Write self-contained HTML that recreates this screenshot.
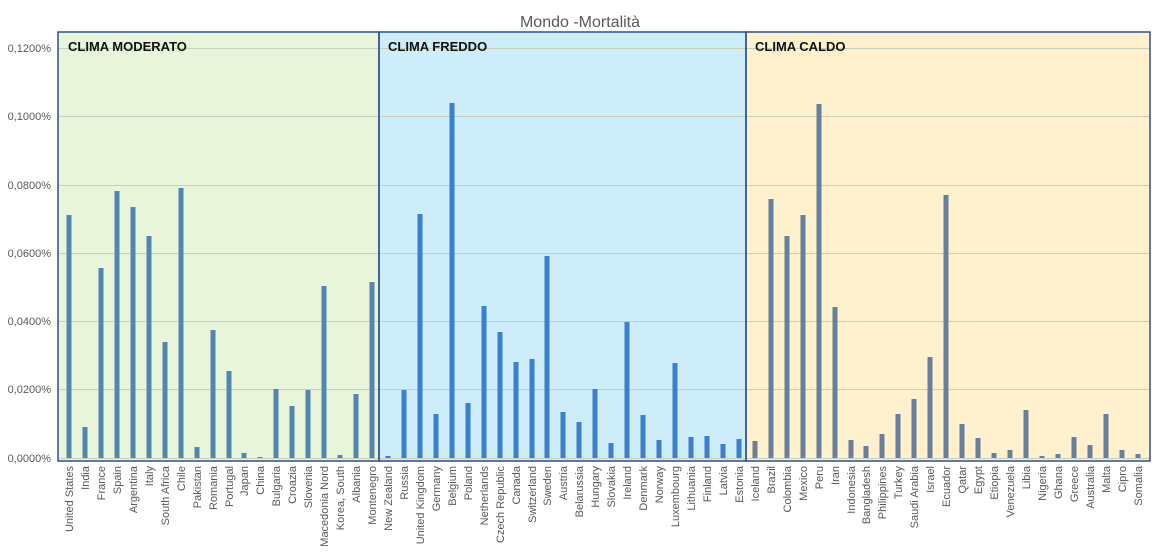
<!DOCTYPE html><html><head><meta charset="utf-8"><style>body{margin:0;background:#fff}svg{display:block;font-family:"Liberation Sans",sans-serif}</style></head><body>
<svg width="1160" height="556" viewBox="0 0 1160 556">
<text x="580" y="27" font-size="16" fill="#595959" text-anchor="middle">Mondo -Mortalità</text>
<rect x="58" y="32" width="321" height="429" fill="#e9f5da"/>
<rect x="379" y="32" width="367" height="429" fill="#ccedf9"/>
<rect x="746" y="32" width="404" height="429" fill="#fff1cd"/>
<g stroke="#c9cfb8" stroke-width="1">
<line x1="58" x2="1150" y1="48.5" y2="48.5"/><line x1="58" x2="1150" y1="116.5" y2="116.5"/><line x1="58" x2="1150" y1="185.5" y2="185.5"/><line x1="58" x2="1150" y1="253.5" y2="253.5"/><line x1="58" x2="1150" y1="321.5" y2="321.5"/><line x1="58" x2="1150" y1="389.5" y2="389.5"/><line x1="58" x2="1150" y1="458.5" y2="458.5"/>
</g>
<g fill="none" stroke="#2f4f8f" stroke-width="1.5"><rect x="58" y="32" width="321" height="429"/><rect x="379" y="32" width="367" height="429"/><rect x="746" y="32" width="404" height="429"/></g>
<g font-size="13" font-weight="bold" fill="#111"><text x="68" y="51">CLIMA MODERATO</text><text x="388" y="51">CLIMA FREDDO</text><text x="755" y="51">CLIMA CALDO</text></g>
<g font-size="11" fill="#595959" text-anchor="end">
<text x="51" y="52">0,1200%</text><text x="51" y="120">0,1000%</text><text x="51" y="189">0,0800%</text><text x="51" y="257">0,0600%</text><text x="51" y="325">0,0400%</text><text x="51" y="393">0,0200%</text><text x="51" y="462">0,0000%</text>
</g>
<g fill="#5585ae">
<rect x="66.5" y="215" width="5" height="243"/><rect x="82.5" y="427" width="5" height="31"/><rect x="98.5" y="268" width="5" height="190"/><rect x="114.5" y="191" width="5" height="267"/><rect x="130.5" y="207" width="5" height="251"/><rect x="146.5" y="236" width="5" height="222"/><rect x="162.5" y="342" width="5" height="116"/><rect x="178.5" y="188" width="5" height="270"/><rect x="194.5" y="447" width="5" height="11"/><rect x="210.5" y="330" width="5" height="128"/><rect x="226.5" y="371" width="5" height="87"/><rect x="241.5" y="453" width="5" height="5"/><rect x="257.5" y="457" width="5" height="1"/><rect x="273.5" y="389" width="5" height="69"/><rect x="289.5" y="406" width="5" height="52"/><rect x="305.5" y="390" width="5" height="68"/><rect x="321.5" y="286" width="5" height="172"/><rect x="337.5" y="455" width="5" height="3"/><rect x="353.5" y="394" width="5" height="64"/><rect x="369.5" y="282" width="5" height="176"/>
</g>
<g fill="#3a7fd0">
<rect x="385.5" y="456" width="5" height="2"/><rect x="401.5" y="390" width="5" height="68"/><rect x="417.5" y="214" width="5" height="244"/><rect x="433.5" y="414" width="5" height="44"/><rect x="449.5" y="103" width="5" height="355"/><rect x="465.5" y="403" width="5" height="55"/><rect x="481.5" y="306" width="5" height="152"/><rect x="497.5" y="332" width="5" height="126"/><rect x="513.5" y="362" width="5" height="96"/><rect x="529.5" y="359" width="5" height="99"/><rect x="544.5" y="256" width="5" height="202"/><rect x="560.5" y="412" width="5" height="46"/><rect x="576.5" y="422" width="5" height="36"/><rect x="592.5" y="389" width="5" height="69"/><rect x="608.5" y="443" width="5" height="15"/><rect x="624.5" y="322" width="5" height="136"/><rect x="640.5" y="415" width="5" height="43"/><rect x="656.5" y="440" width="5" height="18"/><rect x="672.5" y="363" width="5" height="95"/><rect x="688.5" y="437" width="5" height="21"/><rect x="704.5" y="436" width="5" height="22"/><rect x="720.5" y="444" width="5" height="14"/><rect x="736.5" y="439" width="5" height="19"/>
</g>
<g fill="#6a7f9c">
<rect x="752.5" y="441" width="5" height="17"/><rect x="768.5" y="199" width="5" height="259"/><rect x="784.5" y="236" width="5" height="222"/><rect x="800.5" y="215" width="5" height="243"/><rect x="816.5" y="104" width="5" height="354"/><rect x="832.5" y="307" width="5" height="151"/><rect x="848.5" y="440" width="5" height="18"/><rect x="863.5" y="446" width="5" height="12"/><rect x="879.5" y="434" width="5" height="24"/><rect x="895.5" y="414" width="5" height="44"/><rect x="911.5" y="399" width="5" height="59"/><rect x="927.5" y="357" width="5" height="101"/><rect x="943.5" y="195" width="5" height="263"/><rect x="959.5" y="424" width="5" height="34"/><rect x="975.5" y="438" width="5" height="20"/><rect x="991.5" y="453" width="5" height="5"/><rect x="1007.5" y="450" width="5" height="8"/><rect x="1023.5" y="410" width="5" height="48"/><rect x="1039.5" y="456" width="5" height="2"/><rect x="1055.5" y="454" width="5" height="4"/><rect x="1071.5" y="437" width="5" height="21"/><rect x="1087.5" y="445" width="5" height="13"/><rect x="1103.5" y="414" width="5" height="44"/><rect x="1119.5" y="450" width="5" height="8"/><rect x="1135.5" y="454" width="5" height="4"/>
</g>
<g font-size="11" fill="#595959" text-anchor="end">
<text transform="translate(73,466) rotate(-90)">United States</text><text transform="translate(89,466) rotate(-90)">India</text><text transform="translate(105,466) rotate(-90)">France</text><text transform="translate(121,466) rotate(-90)">Spain</text><text transform="translate(137,466) rotate(-90)">Argentina</text><text transform="translate(153,466) rotate(-90)">Italy</text><text transform="translate(169,466) rotate(-90)">South Africa</text><text transform="translate(185,466) rotate(-90)">Chile</text><text transform="translate(201,466) rotate(-90)">Pakistan</text><text transform="translate(217,466) rotate(-90)">Romania</text><text transform="translate(233,466) rotate(-90)">Portugal</text><text transform="translate(248,466) rotate(-90)">Japan</text><text transform="translate(264,466) rotate(-90)">China</text><text transform="translate(280,466) rotate(-90)">Bulgaria</text><text transform="translate(296,466) rotate(-90)">Croazia</text><text transform="translate(312,466) rotate(-90)">Slovenia</text><text transform="translate(328,466) rotate(-90)">Macedonia Nord</text><text transform="translate(344,466) rotate(-90)">Korea, South</text><text transform="translate(360,466) rotate(-90)">Albania</text><text transform="translate(376,466) rotate(-90)">Montenegro</text>
<text transform="translate(392,466) rotate(-90)">New Zealand</text><text transform="translate(408,466) rotate(-90)">Russia</text><text transform="translate(424,466) rotate(-90)">United Kingdom</text><text transform="translate(440,466) rotate(-90)">Germany</text><text transform="translate(456,466) rotate(-90)">Belgium</text><text transform="translate(472,466) rotate(-90)">Poland</text><text transform="translate(488,466) rotate(-90)">Netherlands</text><text transform="translate(504,466) rotate(-90)">Czech Republic</text><text transform="translate(520,466) rotate(-90)">Canada</text><text transform="translate(536,466) rotate(-90)">Switzerland</text><text transform="translate(551,466) rotate(-90)">Sweden</text><text transform="translate(567,466) rotate(-90)">Austria</text><text transform="translate(583,466) rotate(-90)">Belarussia</text><text transform="translate(599,466) rotate(-90)">Hungary</text><text transform="translate(615,466) rotate(-90)">Slovakia</text><text transform="translate(631,466) rotate(-90)">Ireland</text><text transform="translate(647,466) rotate(-90)">Denmark</text><text transform="translate(663,466) rotate(-90)">Norway</text><text transform="translate(679,466) rotate(-90)">Luxembourg</text><text transform="translate(695,466) rotate(-90)">Lithuania</text><text transform="translate(711,466) rotate(-90)">Finland</text><text transform="translate(727,466) rotate(-90)">Latvia</text><text transform="translate(743,466) rotate(-90)">Estonia</text>
<text transform="translate(759,466) rotate(-90)">Iceland</text><text transform="translate(775,466) rotate(-90)">Brazil</text><text transform="translate(791,466) rotate(-90)">Colombia</text><text transform="translate(807,466) rotate(-90)">Mexico</text><text transform="translate(823,466) rotate(-90)">Peru</text><text transform="translate(839,466) rotate(-90)">Iran</text><text transform="translate(855,466) rotate(-90)">Indonesia</text><text transform="translate(870,466) rotate(-90)">Bangladesh</text><text transform="translate(886,466) rotate(-90)">Philippines</text><text transform="translate(902,466) rotate(-90)">Turkey</text><text transform="translate(918,466) rotate(-90)">Saudi Arabia</text><text transform="translate(934,466) rotate(-90)">Israel</text><text transform="translate(950,466) rotate(-90)">Ecuador</text><text transform="translate(966,466) rotate(-90)">Qatar</text><text transform="translate(982,466) rotate(-90)">Egypt</text><text transform="translate(998,466) rotate(-90)">Etiopia</text><text transform="translate(1014,466) rotate(-90)">Venezuela</text><text transform="translate(1030,466) rotate(-90)">Libia</text><text transform="translate(1046,466) rotate(-90)">Nigeria</text><text transform="translate(1062,466) rotate(-90)">Ghana</text><text transform="translate(1078,466) rotate(-90)">Greece</text><text transform="translate(1094,466) rotate(-90)">Australia</text><text transform="translate(1110,466) rotate(-90)">Malta</text><text transform="translate(1126,466) rotate(-90)">Cipro</text><text transform="translate(1142,466) rotate(-90)">Somalia</text>
</g>
</svg>
</body></html>
